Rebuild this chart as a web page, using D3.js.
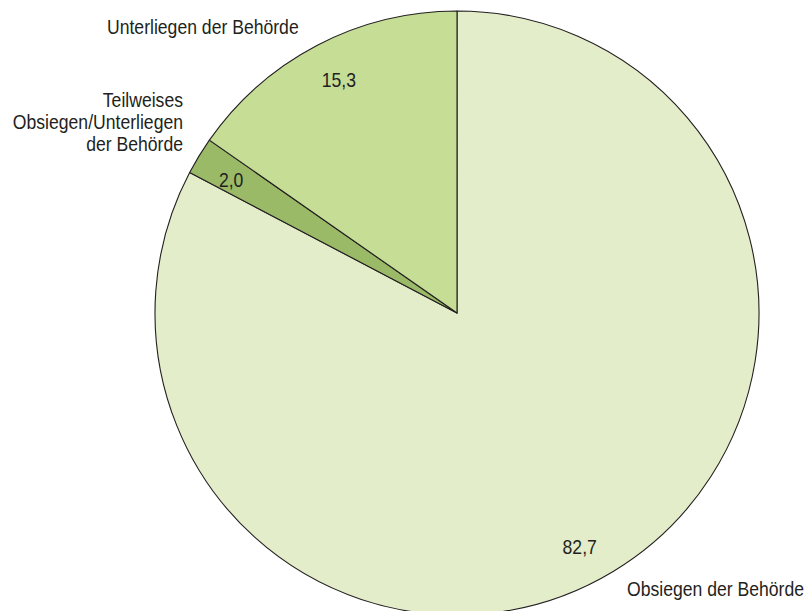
<!DOCTYPE html>
<html>
<head>
<meta charset="utf-8">
<script src="https://cdn.jsdelivr.net/npm/d3@7"></script>
<style>
  html, body { margin: 0; padding: 0; background: #fff; }
  svg { display: block; }
  text { font-family: "Liberation Sans", Arial, sans-serif; fill: #231f20; }
</style>
</head>
<body>
<svg id="chart" width="808" height="611"></svg>
<script>
// ---- data ----
const categories = ["Obsiegen der Behörde", "Teilweises Obsiegen/Unterliegen der Behörde", "Unterliegen der Behörde"];
const values = [82.7, 2.0, 15.3];
const valueLabels = ["82,7", "2,0", "15,3"];
const categoryLines = [["Obsiegen der Behörde"], ["Teilweises", "Obsiegen/Unterliegen", "der Behörde"], ["Unterliegen der Behörde"]];
const colors = ["#e4edca", "#9aba68", "#c6dd96"];

// ---- layout ----
const W = 808, H = 611;
const cx = 457, cy = 313, R = 302;
const fontSize = 20;
const squeeze = 0.88; // condensed look
// value label placement: [angle (deg, clockwise from 12 o'clock), radius fraction]
const valuePos = [[152.3, 0.874], [300.5, 0.868], [333.1, 0.865]];
// category labels: [x, y of first baseline, anchor]
const catPos = [[627, 596, "start"], [183, 107, "end"], [107, 34, "start"]];
const lineH = 22;

const svg = d3.select("#chart");
const g = svg.append("g").attr("transform", `translate(${cx},${cy})`);

const pie = d3.pie().sort(null).value(d => d)(values);
const arc = d3.arc().innerRadius(0).outerRadius(R);

g.selectAll("path.slice")
  .data(pie)
  .join("path")
  .attr("class", "slice")
  .attr("d", arc)
  .attr("fill", (d, i) => colors[i])
  .attr("stroke", "#231f20")
  .attr("stroke-width", 1.1)
  .attr("stroke-linejoin", "round");

g.selectAll("text.val")
  .data(pie)
  .join("text")
  .attr("class", "val")
  .attr("transform", (d, i) => {
    const a = valuePos[i][0] * Math.PI / 180, r = R * valuePos[i][1];
    return `translate(${Math.sin(a) * r},${-Math.cos(a) * r}) scale(${squeeze},1)`;
  })
  .attr("dy", "0.36em")
  .attr("text-anchor", "middle")
  .attr("font-size", fontSize)
  .text((d, i) => valueLabels[i]);

categoryLines.forEach((lines, i) => {
  const t = svg.append("text")
    .attr("class", "cat")
    .attr("font-size", fontSize)
    .attr("text-anchor", catPos[i][2])
    .attr("transform", `translate(${catPos[i][0]},${catPos[i][1]}) scale(${squeeze},1)`);
  lines.forEach((ln, j) => {
    t.append("tspan").attr("x", 0).attr("y", j * lineH).text(ln);
  });
});
</script>
</body>
</html>
